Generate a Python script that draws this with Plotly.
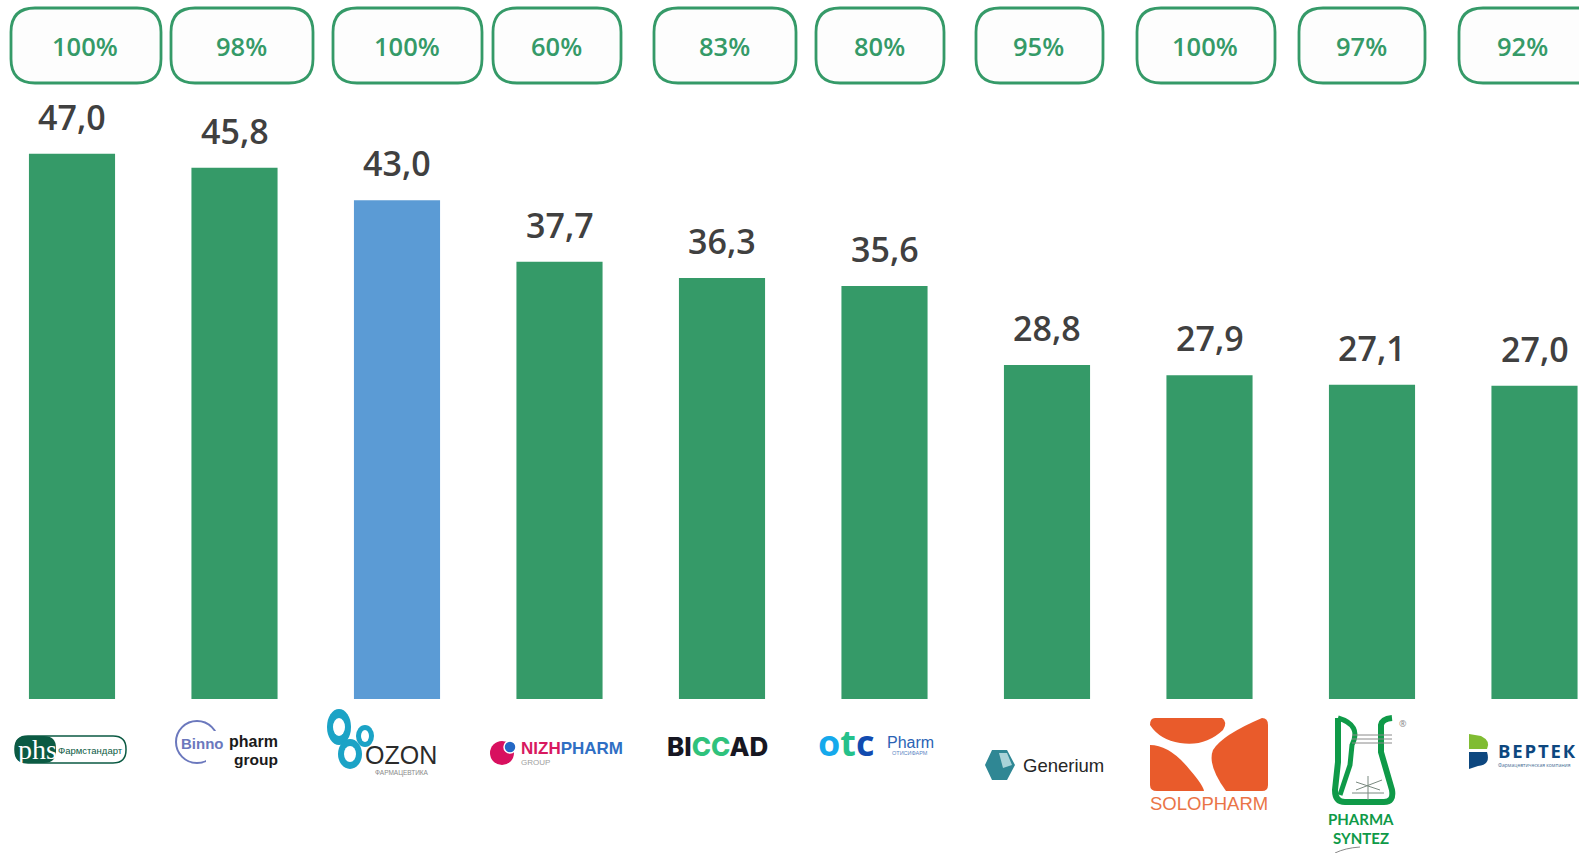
import plotly.graph_objects as go

W, H = 1579, 853
companies = ["Фармстандарт", "Binnopharm Group", "Озон Фармацевтика", "Нижфарм", "Biocad",
             "Отисифарм", "Generium", "Solopharm", "Фармасинтез", "Вертекс"]
values = [47.0, 45.8, 43.0, 37.7, 36.3, 35.6, 28.8, 27.9, 27.1, 27.0]
shares = ["100%", "98%", "100%", "60%", "83%", "80%", "95%", "100%", "97%", "92%"]
bar_colors = ["#359a68", "#359a68", "#5b9bd5"] + ["#359a68"] * 7
pill_left = [11, 171, 333, 493, 654, 816, 976, 1137, 1299, 1459]
pill_right = [161, 313, 482, 621, 796, 944, 1103, 1275, 1425, 1610]

GREEN = "#359a68"
px_x = lambda x: x / W
px_y = lambda y: 1 - y / H


def path(*cmds):
    out = []
    for c in cmds:
        if c == "Z":
            out.append("Z")
            continue
        letter, nums = c[0], c[1:]
        pts = [f"{px_x(nums[i])},{px_y(nums[i + 1])}" for i in range(0, len(nums), 2)]
        out.append(letter + " " + " ".join(pts))
    return " ".join(out)


shapes = []


def add_path(d, fill="rgba(0,0,0,0)", line=None, width=0):
    shapes.append(dict(type="path", xref="paper", yref="paper", path=d, fillcolor=fill,
                       line=dict(color=line or "rgba(0,0,0,0)", width=width), layer="above"))


def circle(cx, cy, rx, ry=None, fill="rgba(0,0,0,0)", line=None, width=0):
    ry = ry or rx
    shapes.append(dict(type="circle", xref="paper", yref="paper", x0=px_x(cx - rx), x1=px_x(cx + rx),
                       y0=px_y(cy + ry), y1=px_y(cy - ry), fillcolor=fill,
                       line=dict(color=line or "rgba(0,0,0,0)", width=width), layer="above"))


def rrect(x0, y0, x1, y1, r, fill, line=None, width=0):
    add_path(path(("M", x0 + r, y0), ("L", x1 - r, y0), ("Q", x1, y0, x1, y0 + r), ("L", x1, y1 - r),
                  ("Q", x1, y1, x1 - r, y1), ("L", x0 + r, y1), ("Q", x0, y1, x0, y1 - r), ("L", x0, y0 + r),
                  ("Q", x0, y0, x0 + r, y0), "Z"), fill, line, width)


annotations = []


def label(x, y, text, size, color, family="Open Sans", weight=400, anchor="center"):
    annotations.append(dict(xref="paper", yref="paper", x=px_x(x), y=px_y(y), text=text, showarrow=False,
                            xanchor=anchor, yanchor="middle", borderpad=0,
                            font=dict(size=size, color=color, family=family, weight=weight)))


# share pills
for left, right, share in zip(pill_left, pill_right, shares):
    rrect(left, 8, right, 83, 24, "#fdfdfd", GREEN, 2.8)
for left, right, share in zip(pill_left, pill_right, shares):
    center = (left + right) / 2 if right < W else left + 64
    label(center - 1, 46, share, 25.5, GREEN, weight=600)

# value labels
for i, v in enumerate(values):
    annotations.append(dict(x=companies[i], y=v, yshift=37, text=f"{v:.1f}".replace(".", ","), showarrow=False,
                            xanchor="center", yanchor="middle",
                            font=dict(size=34, color="#404040", family="Open Sans", weight=600)))

# --- logos, redrawn ---
# Pharmstandard
rrect(15, 736, 126, 763, 13, "#ffffff", "#0b5a43", 1.5)
rrect(15, 736, 56, 763, 12, "#0b5a43")
label(37, 749, "phs", 28, "#ffffff", family="Liberation Serif")
label(90, 750, "Фармстандарт", 9.5, "#0b5a43", family="Liberation Sans")
# Binnopharm
circle(197, 742, 21, line="#6b78bd", width=2)
rrect(206, 731, 226, 762, 0, "#ffffff")
label(203, 743, "Binno", 15, "#6b78bd", family="Liberation Sans", weight=700)
label(253, 741, "pharm", 16, "#1a1a1a", family="Liberation Sans", weight=700)
label(256, 759, "group", 15.5, "#1a1a1a", family="Liberation Sans", weight=700)
# Ozon
for cx, cy, rx, ry, hx, hy in [(339, 727, 12, 18, 6, 9), (365, 736, 9, 11, 4, 6), (350, 754, 12, 15, 6, 8)]:
    circle(cx, cy, rx, ry, fill="#1ba3c6")
    circle(cx, cy, hx, hy, fill="#ffffff")
label(401, 755, "OZON", 25, "#2b2b2b", family="Liberation Sans")
label(402, 773, "ФАРМАЦЕВТИКА", 6.5, "#8a8a8a", family="Liberation Sans")
# Nizhpharm
circle(502, 753, 12, fill="#d8105f")
circle(510, 747, 6, fill="#2468c5", line="#ffffff", width=1.5)
label(520, 748, '<span style="color:#d8195f">NIZH</span><span style="color:#2f6fc4">PHARM</span>', 17,
      "#2f6fc4", family="Liberation Sans", weight=700, anchor="left")
label(520, 762, "GROUP", 8, "#a0a0a0", family="Liberation Sans", anchor="left")
# Biocad
label(717, 746, '<span style="color:#171722">BI</span><span style="color:#2fc27c">CC</span>'
      '<span style="color:#171722">AD</span>', 26, "#171722", family="Inter", weight=800)
# OTC Pharm
label(846, 742, '<span style="color:#15a9ec">o</span><span style="color:#25c18b">t</span>'
      '<span style="color:#124bb0">c</span>', 36, "#124bb0", weight=700)
label(910, 742, "Pharm", 16, "#2a63b5", family="Liberation Sans", weight=400)
label(910, 753, "ОТИСИФАРМ", 5.5, "#5d86c4", family="Liberation Sans")
# Generium
add_path(path(("M", 992, 750), ("L", 1007, 750), ("L", 1015, 765), ("L", 1007, 780), ("L", 992, 780),
              ("L", 985, 765), "Z"), "#2f8794")
add_path(path(("M", 999, 753), ("L", 1007, 753), ("L", 1012, 765), ("L", 1003, 768), "Z"), "#a9d3d8")
label(1022, 765, "Generium", 18.5, "#262626", family="Liberation Sans", anchor="left")
# Solopharm
ORANGE = "#e95b2b"
add_path(path(("M", 1155, 718), ("L", 1222, 718), ("Q", 1228, 722, 1223, 730), ("Q", 1205, 747, 1180, 743),
              ("Q", 1160, 740, 1150, 725), ("Q", 1150, 718, 1155, 718), "Z"), ORANGE)
add_path(path(("M", 1150, 745), ("Q", 1170, 745, 1190, 770), ("Q", 1203, 785, 1204, 791), ("L", 1157, 791),
              ("Q", 1150, 791, 1150, 785), "Z"), ORANGE)
add_path(path(("M", 1262, 718), ("Q", 1268, 718, 1268, 725), ("L", 1268, 785), ("Q", 1268, 791, 1262, 791),
              ("L", 1226, 791), ("Q", 1207, 765, 1213, 750), ("Q", 1222, 735, 1262, 718), "Z"), ORANGE)
label(1209, 803, "SOLOPHARM", 18.5, "#ea7447", family="Liberation Sans")
# PharmaSyntez
PS = "#0f9a48"
add_path(path(("M", 1338, 718), ("L", 1338, 762), ("L", 1335, 790), ("Q", 1335, 802, 1345, 802), ("L", 1384, 802),
              ("Q", 1394, 802, 1392, 790), ("L", 1381, 752), ("L", 1381, 725), ("Q", 1382, 719, 1392, 718)),
         line=PS, width=6)
add_path(path(("M", 1338, 718), ("Q", 1362, 725, 1352, 745), ("L", 1350, 765), ("L", 1340, 795)), line=PS, width=5)
for yy in (735, 739, 743):
    add_path(path(("M", 1352, yy), ("L", 1392, yy)), line="#8a8a8a", width=1)
add_path(path(("M", 1352, 793), ("L", 1384, 793), ("M", 1368, 776), ("L", 1368, 800), ("M", 1356, 782),
              ("L", 1380, 790), ("M", 1382, 780), ("L", 1356, 790)), line="#7a8a80", width=1)
label(1361, 819, "PHARMA", 15, PS, family="Lato", weight=700)
label(1361, 838, "SYNTEZ", 15, PS, family="Lato", weight=700)
label(1403, 723, "®", 9, "#888888")
add_path(path(("M", 1335, 853), ("Q", 1345, 848, 1360, 847)), line="#888888", width=1)
# Vertek
add_path(path(("M", 1469, 734), ("L", 1481, 736), ("Q", 1491, 741, 1487, 749), ("L", 1469, 749), "Z"), "#80bc32")
add_path(path(("M", 1469, 752), ("L", 1487, 752), ("Q", 1491, 765, 1478, 766), ("L", 1469, 769), "Z"), "#0d477f")
label(1497, 750, "В\u200aЕ\u200aР\u200aТ\u200aЕ\u200aК", 18.5, "#0d477f", weight=700, anchor="left")
label(1497, 765, "Фармацевтическая компания", 5, "#4a6f96", anchor="left")

fig = go.Figure(go.Bar(x=companies, y=values, width=0.53, marker=dict(color=bar_colors, line=dict(width=0)),
                       hoverinfo="x+y"))

slot, first, base, unit = 162.5, 72, 699, 11.6
fig.update_layout(
    width=W, height=H, margin=dict(l=0, r=0, t=0, b=0), paper_bgcolor="#ffffff", plot_bgcolor="#ffffff",
    showlegend=False, shapes=shapes, annotations=annotations,
    xaxis=dict(type="category", categoryorder="array", categoryarray=companies, visible=False,
               range=[-first / slot, (W - first) / slot]),
    yaxis=dict(visible=False, range=[(base - H) / unit, base / unit]),
)
fig.write_html("out.html", config={"displayModeBar": False},
               post_script="document.body.style.margin='0';document.documentElement.style.overflow='hidden';")
